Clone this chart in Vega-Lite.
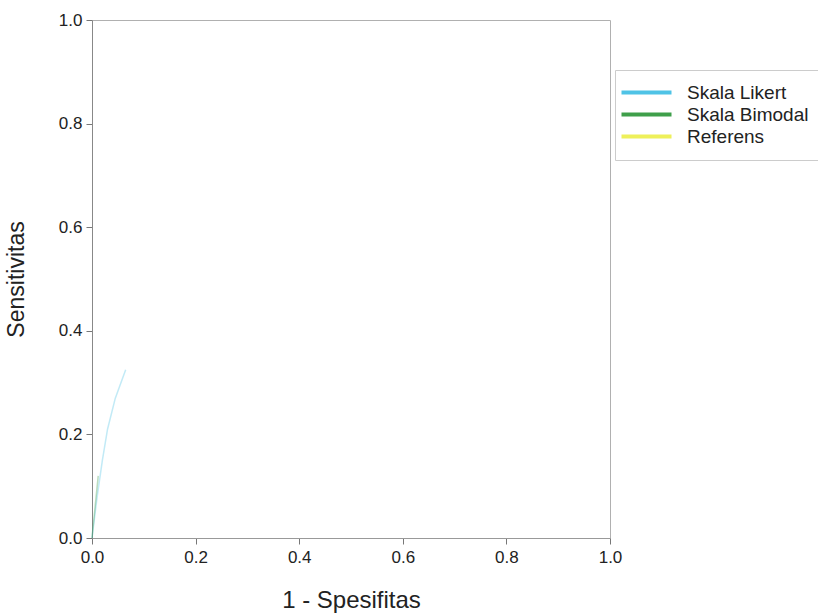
{
  "$schema": "https://vega.github.io/schema/vega-lite/v6.json",
  "width": 518,
  "height": 518,
  "autosize": "none",
  "padding": {"left": 92, "top": 20, "right": 208, "bottom": 77},
  "background": "white",
  "config": {
    "font": "Liberation Sans",
    "view": {"stroke": "#b0b0b0", "strokeWidth": 1}
  },
  "data": {
    "values": [
      {"fpr": 0.0, "tpr": 0.0, "series": "Skala Likert"},
      {"fpr": 0.01, "tpr": 0.08, "series": "Skala Likert"},
      {"fpr": 0.02, "tpr": 0.15, "series": "Skala Likert"},
      {"fpr": 0.03, "tpr": 0.21, "series": "Skala Likert"},
      {"fpr": 0.045, "tpr": 0.27, "series": "Skala Likert"},
      {"fpr": 0.065, "tpr": 0.325, "series": "Skala Likert"},
      {"fpr": 0.0, "tpr": 0.0, "series": "Skala Bimodal"},
      {"fpr": 0.006, "tpr": 0.06, "series": "Skala Bimodal"},
      {"fpr": 0.012, "tpr": 0.12, "series": "Skala Bimodal"}
    ]
  },
  "mark": {"type": "line", "strokeWidth": 1.5, "opacity": 0.35},
  "encoding": {
    "x": {
      "field": "fpr", "type": "quantitative",
      "scale": {"domain": [0, 1], "nice": false, "zero": false},
      "axis": {
        "title": "1 - Spesifitas", "values": [0, 0.2, 0.4, 0.6, 0.8, 1.0], "format": ".1f",
        "grid": false, "domainColor": "#999", "tickColor": "#777", "tickSize": 6,
        "labelFontSize": 17, "labelColor": "#222", "labelPadding": 5, "labelFlush": false,
        "titleFontSize": 24, "titleFontWeight": "normal", "titleColor": "#222", "titlePadding": 23
      }
    },
    "y": {
      "field": "tpr", "type": "quantitative",
      "scale": {"domain": [0, 1], "nice": false, "zero": false},
      "axis": {
        "title": "Sensitivitas", "values": [0, 0.2, 0.4, 0.6, 0.8, 1.0], "format": ".1f",
        "grid": false, "domainColor": "#888", "tickColor": "#777", "tickSize": 6,
        "labelFontSize": 17, "labelColor": "#222", "labelPadding": 4, "labelFlush": false,
        "titleFontSize": 23, "titleFontWeight": "normal", "titleColor": "#222", "titlePadding": 30
      }
    },
    "color": {
      "field": "series", "type": "nominal",
      "scale": {
        "domain": ["Skala Likert", "Skala Bimodal", "Referens"],
        "range": ["#4fc3e6", "#3f9f4a", "#eef05a"]
      },
      "legend": {
        "title": null, "orient": "none", "legendX": 523, "legendY": 50,
        "symbolType": "M-5,0H5", "symbolStrokeWidth": 4, "symbolSize": 100, "symbolOpacity": 1,
        "symbolOffset": 9,
        "labelFontSize": 19, "labelColor": "#222", "labelOffset": 31,
        "rowPadding": 2, "padding": 13,
        "strokeColor": "#ccc", "fillColor": "white"
      }
    }
  }
}
